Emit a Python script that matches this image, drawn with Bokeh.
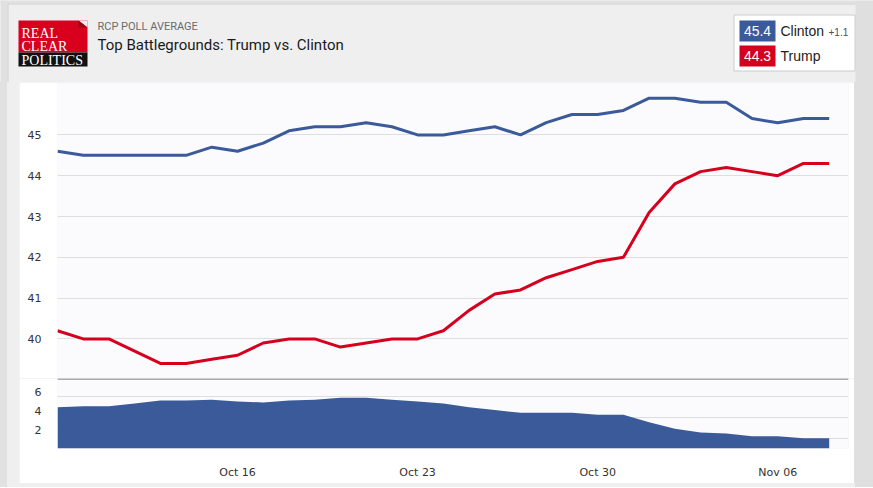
import pandas as pd
from bokeh.plotting import figure
from bokeh.models import ColumnDataSource, Range1d, FixedTicker, DatetimeTickFormatter, Span, Spacer
from bokeh.layouts import column, row
from bokeh.core.properties import value
from bokeh.embed import file_html
from bokeh.resources import INLINE

# ---------------- data ----------------
dates = pd.date_range("2016-10-09", "2016-11-08", freq="D")
clinton = [44.6, 44.5, 44.5, 44.5, 44.5, 44.5, 44.7, 44.6, 44.8, 45.1, 45.2,
           45.2, 45.3, 45.2, 45.0, 45.0, 45.1, 45.2, 45.0, 45.3, 45.5, 45.5,
           45.6, 45.9, 45.9, 45.8, 45.8, 45.4, 45.3, 45.4, 45.4]
trump = [40.2, 40.0, 40.0, 39.7, 39.4, 39.4, 39.5, 39.6, 39.9, 40.0, 40.0,
         39.8, 39.9, 40.0, 40.0, 40.2, 40.7, 41.1, 41.2, 41.5, 41.7, 41.9,
         42.0, 43.1, 43.8, 44.1, 44.2, 44.1, 44.0, 44.3, 44.3]
x_tick_dates = ["2016-10-16", "2016-10-23", "2016-10-30", "2016-11-06"]
main_ticks = [40, 41, 42, 43, 44, 45]
spread_ticks = [2, 4, 6]
kicker = "RCP POLL AVERAGE"
title = "Top Battlegrounds: Trump vs. Clinton"
names = ["Clinton", "Trump"]
logo_words = ["REAL", "CLEAR", "POLITICS"]

spread = [round(c - t, 1) for c, t in zip(clinton, trump)]
src = ColumnDataSource(dict(date=dates, clinton=clinton, trump=trump, spread=spread))

BLUE = "#3b5a9a"
RED = "#d5001d"
HEAD_BG = "#efefef"
EDGE_BG = "#e1e1e1"
RIGHT_BG = "#dfdfdf"
PLOT_BG = "#fbfbfd"
TICK_FONT = "DejaVu Sans"

xr = Range1d(dates[0], dates[-1] + pd.Timedelta(hours=18))
tick_ms = [int(pd.Timestamp(d).value // 10**6) for d in x_tick_dates]


def style_y(p, ticks):
    p.yaxis.ticker = FixedTicker(ticks=ticks)
    p.yaxis.axis_line_color = None
    p.yaxis.major_tick_line_color = None
    p.yaxis.minor_tick_line_color = None
    p.yaxis.major_label_standoff = 10
    p.yaxis.major_label_text_font = TICK_FONT
    p.yaxis.major_label_text_font_size = "11px"
    p.yaxis.major_label_text_color = "#333333"
    p.xgrid.visible = False


# ---------------- main line chart ----------------
main = figure(width=835, height=296, x_axis_type="datetime", x_range=xr,
              y_range=Range1d(39.03, 46.26), x_axis_location=None,
              toolbar_location=None, output_backend="svg",
              min_border_left=38, min_border_right=6, min_border_top=1,
              min_border_bottom=0, background_fill_color=PLOT_BG,
              border_fill_color="white", outline_line_color=None)
style_y(main, main_ticks)
main.ygrid.grid_line_color = "#dedede"
main.line(x="date", y="clinton", source=src, line_color=BLUE, line_width=3)
main.line(x="date", y="trump", source=src, line_color=RED, line_width=3)

# ---------------- spread area chart ----------------
lower = figure(width=835, height=105, x_axis_type="datetime", x_range=xr,
               y_range=Range1d(0, 7.45), toolbar_location=None,
               output_backend="svg", min_border_left=38, min_border_right=6,
               min_border_top=0, min_border_bottom=35,
               background_fill_color=PLOT_BG, border_fill_color="white",
               outline_line_color=None)
style_y(lower, spread_ticks)
lower.ygrid.ticker = FixedTicker(ticks=[1.1, 3.3, 5.5])
lower.ygrid.grid_line_color = "#dedede"
lower.varea(x="date", y1=0, y2="spread", source=src, fill_color=BLUE)
lower.add_layout(Span(location=7.45, dimension="width", line_color="#aaaaaa", line_width=3))
lower.xaxis.ticker = FixedTicker(ticks=tick_ms)
fmt = "%b %d"
lower.xaxis.formatter = DatetimeTickFormatter(
    milliseconds=fmt, seconds=fmt, minsec=fmt, minutes=fmt, hourmin=fmt,
    hours=fmt, days=fmt, months=fmt, years=fmt)
lower.xaxis.axis_line_color = None
lower.xaxis.major_tick_line_color = None
lower.xaxis.minor_tick_line_color = None
lower.xaxis.major_label_standoff = 11
lower.xaxis.major_label_text_font = TICK_FONT
lower.xaxis.major_label_text_font_size = "11px"
lower.xaxis.major_label_text_color = "#333333"

# ---------------- header ----------------
head = figure(width=873, height=82, x_range=Range1d(0, 873), y_range=Range1d(82, 0),
              x_axis_location=None, y_axis_location=None, toolbar_location=None,
              output_backend="svg", min_border=0, background_fill_color=HEAD_BG,
              border_fill_color=HEAD_BG, outline_line_color=None)
head.grid.visible = False
# outer frame strips
head.quad(left=[0, 0, 855], right=[7, 873, 873], top=[0, 0, 0], bottom=[82, 3, 82],
          fill_color=[EDGE_BG, EDGE_BG, RIGHT_BG], line_color=None)
head.segment(x0=[7.5, 7.5], y0=[3.5, 3.5], x1=[7.5, 855], y1=[82, 3.5],
             line_color="#d0d0d0", line_width=1)
# logo
head.quad(left=[18], right=[87], top=[20], bottom=[52], fill_color="#d8001c", line_color=None)
head.quad(left=[18], right=[87], top=[52], bottom=[66], fill_color="#111111", line_color=None)
head.patch(x=[78, 87, 87], y=[20, 20, 27], fill_color=HEAD_BG, line_color=None)
head.patch(x=[78, 78, 87], y=[20, 27, 27], fill_color="#9e0016", line_color=None)
head.text(x=[21, 21, 21], y=[32.5, 46, 59.5], text=logo_words, text_color="white",
          text_font=value("Liberation Serif"), text_font_size="14px",
          text_baseline="middle")
# titles
head.text(x=[97], y=[26], text=[kicker], text_color="#6b6b6b",
          text_font=value("Roboto"), text_font_size="11px", text_baseline="middle")
head.text(x=[97], y=[44.5], text=[title], text_color="#1a1a1a",
          text_font=value("Roboto"), text_font_size="15px", text_baseline="middle")
# legend box
head.quad(left=[733.5], right=[854.5], top=[14.5], bottom=[70.5], fill_color="white",
          line_color="#cccccc")
head.quad(left=[739, 739], right=[775, 775], top=[20, 45], bottom=[41, 66],
          fill_color=[BLUE, RED], line_color=None)
head.text(x=[757, 757], y=[30.5, 55.5],
          text=[f"{clinton[-1]:.1f}", f"{trump[-1]:.1f}"], text_color="white",
          text_font=value("Liberation Sans"), text_font_size="14px",
          text_align="center", text_baseline="middle")
head.text(x=[780, 780], y=[30.5, 55.5], text=names, text_color="#222222",
          text_font=value("Liberation Sans"), text_font_size="14px",
          text_baseline="middle")
head.text(x=[828], y=[31.5], text=[f"+{clinton[-1] - trump[-1]:.1f}"], text_color="#4a4f5e",
          text_font=value("Liberation Sans"), text_font_size="10px",
          text_baseline="middle")


def side(w, h, color):
    return Spacer(width=w, height=h, styles={"background-color": color})


layout = column(
    head,
    row(side(7, 296, EDGE_BG), side(12, 296, HEAD_BG), main, side(19, 296, RIGHT_BG)),
    row(side(7, 105, EDGE_BG), side(12, 105, HEAD_BG), lower, side(19, 105, RIGHT_BG)),
    row(side(7, 4, EDGE_BG), side(848, 4, HEAD_BG), side(18, 4, RIGHT_BG)),
    styles={"background-color": HEAD_BG},
)

open("out.html", "w").write(file_html(layout, INLINE))
